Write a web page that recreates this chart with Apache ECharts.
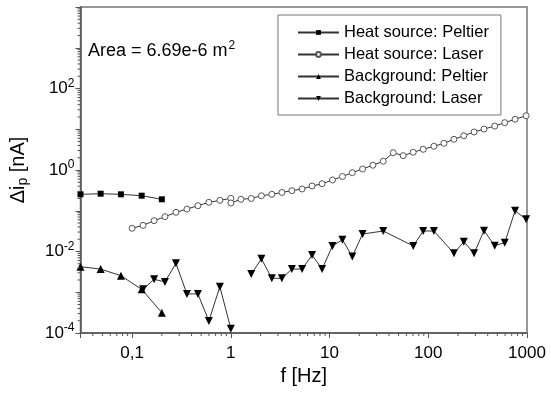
<!DOCTYPE html>
<html>
<head>
<meta charset="utf-8">
<script src="https://cdn.jsdelivr.net/npm/echarts@6/dist/echarts.min.js"></script>
<style>
  html, body { margin: 0; padding: 0; background: #fff; }
  #chart { width: 551px; height: 393px; }
</style>
</head>
<body>
<div id="chart"></div>
<script>
// frequencies in Hz, currents in nA
const peltierF = [0.03, 0.048, 0.077, 0.125, 0.2];
const peltierI = [0.253, 0.262, 0.253, 0.234, 0.191];

const laserF1 = [0.1, 0.129, 0.167, 0.215, 0.278, 0.359, 0.464, 0.599, 0.774, 1.0];
const laserI1 = [0.0371, 0.0439, 0.057, 0.0715, 0.0916, 0.11, 0.133, 0.161, 0.18, 0.202];

const laserF2 = [1.0, 1.265, 1.61, 2.04, 2.6, 3.29, 4.15, 5.27, 6.65, 8.4, 10.7, 13.5, 17.0, 21.6, 27.5,
  35.0, 44.2, 55.7, 70.4, 88.8, 114, 144, 182, 229, 291, 367, 471, 595, 757, 980];
const laserI2 = [0.155, 0.191, 0.2, 0.233, 0.253, 0.281, 0.311, 0.342, 0.405, 0.461, 0.569, 0.692, 0.859, 1.06, 1.31,
  1.64, 2.66, 2.25, 2.72, 3.22, 3.82, 4.52, 5.67, 6.95, 8.57, 10.1, 12.0, 14.5, 17.6, 21.5];

const bgPeltierF = [0.03, 0.048, 0.077, 0.125, 0.2];
const bgPeltierI = [0.00424, 0.0037, 0.00255, 0.00118, 0.000315];

const bgLaserF1 = [0.129, 0.167, 0.215, 0.278, 0.359, 0.464, 0.599, 0.774, 1.0];
const bgLaserI1 = [0.00118, 0.00208, 0.00179, 0.00513, 0.00091, 0.00091, 0.000197, 0.00137, 0.000128];

const bgLaserF2 = [1.61, 2.04, 2.6, 3.29, 4.15, 5.27, 6.65, 8.4, 10.7, 13.5, 17.0, 21.6, 35.0, 70.4, 88.8, 114,
  182, 229, 291, 367, 471, 595, 757, 980];
const bgLaserI2 = [0.0028, 0.0066, 0.0022, 0.0022, 0.0037, 0.0037, 0.0082, 0.0037, 0.0137, 0.0195, 0.0075, 0.0269,
  0.0318, 0.0137, 0.0318, 0.0318, 0.009, 0.0174, 0.009, 0.0324, 0.0139, 0.0164, 0.1, 0.0617];

const seriesNames = ["Heat source: Peltier", "Heat source: Laser", "Background: Peltier", "Background: Laser"];
const xTickLabels = { "-1": "0,1", "0": "1", "1": "10", "2": "100", "3": "1000" };
const areaText = "Area = 6.69e-6 m";

const xMin = 0.03, xMax = 1000, yMin = 1e-4, yMax = 1e4;
const font = "'Liberation Sans', Arial, Helvetica, sans-serif";
const lineColor = "#333";

const zip = (xs, ys) => xs.map((x, i) => [x, ys[i]]);

// log minor ticks (2..9 in each decade)
function minorTicks(lo, hi) {
  const out = [];
  for (let e = Math.floor(Math.log10(lo)); e <= Math.ceil(Math.log10(hi)); e++) {
    for (let m = 2; m <= 9; m++) {
      const v = m * Math.pow(10, e);
      if (v > lo && v < hi) out.push(v);
    }
  }
  return out;
}

function lineSeries(name, xs, ys, symbol, extra) {
  return Object.assign({
    name,
    type: "line",
    data: zip(xs, ys),
    symbol,
    symbolSize: 6,
    lineStyle: { color: lineColor, width: 1 },
    itemStyle: { color: "#000", borderWidth: 0 },
    emphasis: { disabled: true },
    z: 3,
  }, extra || {});
}

const circleStyle = { itemStyle: { color: "#fff", borderColor: "#555", borderWidth: 1 }, symbolSize: 6 };
const downTri = { symbolRotate: 180, symbolSize: 8 };
const upTri = { symbolSize: 8 };

const chart = echarts.init(document.getElementById("chart"), null, { renderer: "canvas" });

chart.setOption({
  animation: false,
  textStyle: { fontFamily: font, color: "#000" },
  grid: { left: 80, right: 24, top: 7, bottom: 60, show: true, borderColor: "#777", borderWidth: 1.5 },
  title: {
    text: areaText + "{s|2}",
    left: 83,
    top: 35,
    textStyle: {
      fontFamily: font, fontSize: 18, fontWeight: "normal", color: "#000",
      rich: { s: { fontFamily: font, fontSize: 12, verticalAlign: "bottom", padding: [0, 0, 10, 1] } },
    },
  },
  legend: {
    data: seriesNames,
    orient: "vertical",
    left: 278,
    top: 15,
    itemWidth: 41,
    itemHeight: 6,
    itemGap: 5,
    padding: [9, 12, 8, 19],
    borderColor: "#777",
    borderWidth: 1,
    backgroundColor: "#fff",
    textStyle: { fontFamily: font, fontSize: 16.5, color: "#000" },
    selectedMode: false,
  },
  xAxis: {
    type: "log",
    min: xMin,
    max: xMax,
    splitNumber: 5,
    name: "f [Hz]",
    nameLocation: "middle",
    nameGap: 33,
    nameTextStyle: { fontFamily: font, fontSize: 20, color: "#000" },
    axisLine: { onZero: false, lineStyle: { color: "#555", width: 1.5 } },
    axisTick: { inside: false, length: 5, lineStyle: { color: "#555" } },
    axisLabel: {
      margin: 12,
      fontFamily: font,
      fontSize: 17,
      color: "#000",
      formatter: (v) => {
        const e = Math.log10(v);
        if (Math.abs(e - Math.round(e)) > 1e-6) return "";
        return xTickLabels[String(Math.round(e))] || "";
      },
    },
    splitLine: { show: false },
  },
  yAxis: {
    type: "log",
    min: yMin,
    max: yMax,
    splitNumber: 8,
    name: "{a|Δi}{b|p}{a| [nA]}",
    nameLocation: "middle",
    nameGap: 50,
    nameTextStyle: {
      fontFamily: font, fontSize: 20, color: "#000",
      rich: {
        a: { fontFamily: font, fontSize: 20 },
        b: { fontFamily: font, fontSize: 14, verticalAlign: "top", padding: [11, 0, 0, 0] },
      },
    },
    axisLine: { onZero: false, lineStyle: { color: "#555", width: 1.5 } },
    axisTick: { inside: false, length: 5, lineStyle: { color: "#555" } },
    axisLabel: {
      margin: 6,
      fontFamily: font,
      fontSize: 17,
      color: "#000",
      formatter: (v) => {
        const e = Math.round(Math.log10(v));
        if (e % 2 !== 0 || e >= 4) return "";
        return "{b|10}{s|" + e + "}";
      },
      rich: {
        b: { fontFamily: font, fontSize: 17 },
        s: { fontFamily: font, fontSize: 12, verticalAlign: "bottom", padding: [0, 0, 10, 0] },
      },
    },
    splitLine: { show: false },
  },
  series: [
    lineSeries(seriesNames[0], peltierF, peltierI, "rect", { symbolSize: 6 }),
    lineSeries(seriesNames[1], laserF1, laserI1, "circle", circleStyle),
    lineSeries(seriesNames[1], laserF2, laserI2, "circle", circleStyle),
    lineSeries(seriesNames[2], bgPeltierF, bgPeltierI, "triangle", upTri),
    lineSeries(seriesNames[3], bgLaserF1, bgLaserI1, "triangle", downTri),
    lineSeries(seriesNames[3], bgLaserF2, bgLaserI2, "triangle", downTri),
    {
      type: "custom",
      silent: true,
      clip: false,
      z: 5,
      data: minorTicks(xMin, xMax).map((v) => [v, yMin]),
      renderItem: (params, api) => {
        const p = api.coord([api.value(0), yMin]);
        return { type: "line", shape: { x1: p[0], y1: p[1], x2: p[0], y2: p[1] + 3 }, style: { stroke: "#555", lineWidth: 1 } };
      },
    },
    {
      type: "custom",
      silent: true,
      clip: false,
      z: 5,
      data: minorTicks(yMin, yMax).map((v) => [xMin, v]),
      renderItem: (params, api) => {
        const p = api.coord([xMin, api.value(1)]);
        return { type: "line", shape: { x1: p[0], y1: p[1], x2: p[0] - 3, y2: p[1] }, style: { stroke: "#555", lineWidth: 1 } };
      },
    },
  ],
});
</script>
</body>
</html>
